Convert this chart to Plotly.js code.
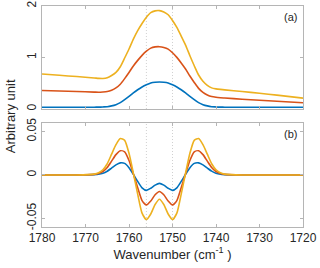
<!DOCTYPE html>
<html>
<head>
<meta charset="utf-8">
<script src="https://cdn.plot.ly/plotly-3.0.1.min.js"></script>
<style>html,body{margin:0;padding:0;background:#fff;}#chart{width:320px;height:268px;}</style>
</head>
<body>
<div id="chart"></div>
<script>
// Wavenumber grid (cm^-1)
const wavenumber = [1780, 1776, 1772, 1768, 1767, 1766, 1765, 1764, 1763, 1762, 1761, 1760, 1759, 1758, 1757, 1756, 1755, 1754, 1753, 1752, 1751, 1750, 1749, 1748, 1747, 1746, 1745, 1744, 1743, 1742, 1741, 1740, 1739, 1738, 1734, 1730, 1726, 1720];

// Panel (a) spectra
const specBlue   = [0.035, 0.035, 0.035, 0.035, 0.036, 0.040, 0.045, 0.060, 0.084, 0.123, 0.182, 0.246, 0.314, 0.373, 0.427, 0.470, 0.505, 0.520, 0.525, 0.520, 0.505, 0.470, 0.427, 0.373, 0.314, 0.246, 0.182, 0.123, 0.084, 0.060, 0.045, 0.040, 0.036, 0.035, 0.034, 0.034, 0.033, 0.033];
const specRed    = [0.360, 0.350, 0.339, 0.328, 0.325, 0.330, 0.339, 0.365, 0.409, 0.481, 0.590, 0.708, 0.836, 0.944, 1.042, 1.122, 1.182, 1.206, 1.210, 1.196, 1.162, 1.092, 1.002, 0.894, 0.776, 0.641, 0.516, 0.400, 0.322, 0.272, 0.241, 0.227, 0.218, 0.212, 0.190, 0.170, 0.150, 0.120];
const specYellow = [0.680, 0.654, 0.630, 0.603, 0.595, 0.592, 0.605, 0.650, 0.710, 0.820, 0.990, 1.165, 1.355, 1.520, 1.660, 1.780, 1.870, 1.905, 1.910, 1.885, 1.830, 1.720, 1.585, 1.415, 1.240, 1.035, 0.840, 0.660, 0.540, 0.460, 0.410, 0.390, 0.380, 0.372, 0.340, 0.305, 0.270, 0.210];

// Panel (b) derivative spectra
const derBlue   = [0, 0, 0, 0.0004, 0.0008, 0.002, 0.0044, 0.008, 0.0117, 0.014, 0.0134, 0.0084, 0.0007, -0.0074, -0.0148, -0.0177, -0.0153, -0.0117, -0.0097, -0.0117, -0.0153, -0.0177, -0.0148, -0.0074, 0.0007, 0.0084, 0.0134, 0.014, 0.0117, 0.008, 0.0044, 0.002, 0.0008, 0.0004, 0, 0, 0, 0];
const derRed    = [0, 0, 0, 0.0007, 0.0017, 0.004, 0.0087, 0.016, 0.0235, 0.028, 0.0268, 0.0168, 0.0013, -0.0147, -0.0295, -0.0345, -0.030, -0.0228, -0.019, -0.0228, -0.030, -0.0345, -0.0295, -0.0147, 0.0013, 0.0168, 0.0268, 0.028, 0.0235, 0.016, 0.0087, 0.004, 0.0017, 0.0007, 0, 0, 0, 0];
const derYellow = [0, 0, 0, 0.001, 0.0025, 0.006, 0.013, 0.024, 0.035, 0.042, 0.040, 0.025, 0.002, -0.022, -0.044, -0.0514, -0.045, -0.034, -0.028, -0.034, -0.045, -0.0514, -0.044, -0.022, 0.002, 0.025, 0.040, 0.042, 0.035, 0.024, 0.013, 0.006, 0.0025, 0.001, 0, 0, 0, 0];

// Reference positions (dotted lines)
const markerPositions = [1756, 1750];

const xTicks = [1780, 1770, 1760, 1750, 1740, 1730, 1720];
const yTicksA = [0, 1, 2];
const yTicksALabels = ['0', '1', '2'];
const yTicksB = [-0.05, 0, 0.05];
const yTicksBLabels = ['-0.05', '0', '0.05'];

const colors = ['#0072BD', '#D95319', '#EDB120'];
const font = 'Liberation Sans, Arial, sans-serif';
const txt = '#262626';

function tr(y, xa, ya, c) {
  return {x: wavenumber, y: y, xaxis: xa, yaxis: ya, type: 'scatter', mode: 'lines',
          line: {color: c, width: 1.6, shape: 'spline', smoothing: 0.6}, hoverinfo: 'skip', showlegend: false};
}

const data = [
  tr(specBlue, 'x', 'y', colors[0]),
  tr(specRed, 'x', 'y', colors[1]),
  tr(specYellow, 'x', 'y', colors[2]),
  tr(derBlue, 'x2', 'y2', colors[0]),
  tr(derRed, 'x2', 'y2', colors[1]),
  tr(derYellow, 'x2', 'y2', colors[2])
];

const axisCommon = {
  showgrid: false, zeroline: false, showline: true, mirror: 'ticks',
  linecolor: '#b5b5b5', linewidth: 1, ticks: 'inside', ticklen: 3, tickcolor: '#b5b5b5',
  tickfont: {family: font, size: 12, color: txt}
};

const shapes = [];
markerPositions.forEach(p => {
  ['y', 'y2'].forEach((ya, i) => {
    shapes.push({type: 'line', xref: i === 0 ? 'x' : 'x2', yref: ya + ' domain', x0: p, x1: p, y0: 0, y1: 1,
                 line: {color: '#c4c4c4', width: 0.8, dash: '1px,2px'}, layer: 'below'});
  });
});

const layout = {
  width: 320, height: 268,
  margin: {l: 42, r: 17, t: 6, b: 41},
  paper_bgcolor: '#fff', plot_bgcolor: '#fff',
  xaxis: Object.assign({}, axisCommon, {domain: [0, 1], anchor: 'y', range: [1780, 1720], tickvals: xTicks, showticklabels: false}),
  yaxis: Object.assign({}, axisCommon, {domain: [0.534, 1], anchor: 'x', range: [0, 2], tickvals: yTicksA, ticktext: yTicksALabels, tickangle: -90}),
  xaxis2: Object.assign({}, axisCommon, {domain: [0, 1], anchor: 'y2', range: [1780, 1720], tickvals: xTicks,
    title: {text: 'Wavenumber (cm<sup>-1</sup> )', font: {family: font, size: 13, color: txt}, standoff: 4}}),
  yaxis2: Object.assign({}, axisCommon, {domain: [0, 0.4706], anchor: 'x2', range: [-0.06, 0.06], tickvals: yTicksB, ticktext: yTicksBLabels, tickangle: -90}),
  shapes: shapes,
  annotations: [
    {text: 'Arbitrary unit', xref: 'paper', yref: 'paper', x: -0.12, y: 0.5, xanchor: 'center', yanchor: 'middle',
     textangle: -90, showarrow: false, font: {family: font, size: 13, color: txt}},
    {text: '(a)', xref: 'x domain', yref: 'y domain', x: 0.985, y: 0.97, xanchor: 'right', yanchor: 'top',
     showarrow: false, font: {family: font, size: 11, color: txt}},
    {text: '(b)', xref: 'x2 domain', yref: 'y2 domain', x: 0.985, y: 0.97, xanchor: 'right', yanchor: 'top',
     showarrow: false, font: {family: font, size: 11, color: txt}}
  ]
};

Plotly.newPlot('chart', data, layout, {staticPlot: true, displayModeBar: false});
</script>
</body>
</html>
